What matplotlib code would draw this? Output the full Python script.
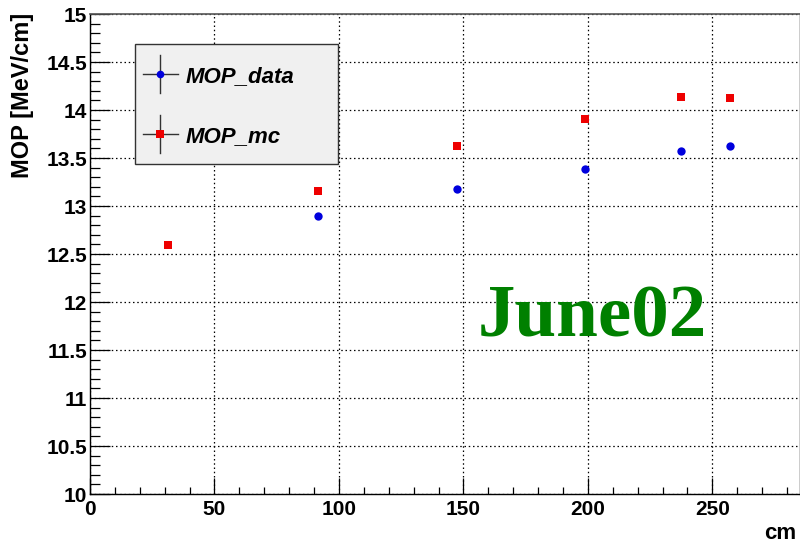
import matplotlib
matplotlib.use("Agg")
import matplotlib.pyplot as plt
from matplotlib.patches import Rectangle
from matplotlib.lines import Line2D
from matplotlib.ticker import MultipleLocator, FuncFormatter

# Most probable energy loss vs. position
mc_x = [31.4, 91.6, 147.5, 198.7, 237.3, 257.0]
mc_y = [12.59, 13.16, 13.62, 13.91, 14.14, 14.12]
data_x = [91.6, 147.5, 198.7, 237.3, 257.0]
data_y = [12.90, 13.18, 13.39, 13.57, 13.62]

series_names = ["MOP_data", "MOP_mc"]
x_label = "cm"
y_label = "MOP [MeV/cm]"
tag_text = "June02"

SANS = "Liberation Sans"
SERIF = "Liberation Serif"

fig = plt.figure(figsize=(8.0, 5.43), dpi=100)
ax = fig.add_axes([90 / 800, 49 / 543, 709.5 / 800, 480 / 543])

ax.set_xlim(0, 285)
ax.set_ylim(10, 15)

# grid
ax.grid(True, which="major", color="black", linestyle=(0, (1.2, 2.2)), linewidth=0.9)
ax.set_axisbelow(True)

# ticks
ax.xaxis.set_major_locator(MultipleLocator(50))
ax.xaxis.set_minor_locator(MultipleLocator(10))
ax.yaxis.set_major_locator(MultipleLocator(0.5))
ax.yaxis.set_minor_locator(MultipleLocator(0.1))
ax.yaxis.set_major_formatter(FuncFormatter(lambda v, p: f"{v:g}"))
ax.xaxis.set_major_formatter(FuncFormatter(lambda v, p: f"{v:g}"))
ax.tick_params(axis="x", which="major", direction="in", length=11.5, width=0.9, pad=4,
               labelsize=15, top=False)
ax.tick_params(axis="x", which="minor", direction="in", length=5.4, width=0.9, top=False)
ax.tick_params(axis="y", which="major", direction="in", length=14.5, width=0.9, pad=2,
               labelsize=15, right=False)
ax.tick_params(axis="y", which="minor", direction="in", length=7.5, width=0.9, right=False)
for lab in ax.get_xticklabels() + ax.get_yticklabels():
    lab.set_fontfamily(SANS)
    lab.set_fontweight("bold")

for side in ["left", "bottom", "right"]:
    ax.spines[side].set_color("black")
    ax.spines[side].set_linewidth(1.0)
ax.spines["top"].set_color("#555555")
ax.spines["top"].set_linewidth(1.2)

# data points
ax.plot(mc_x, mc_y, linestyle="none", marker="s", markersize=5.5,
        color="#ee0000", markeredgewidth=0, zorder=5)
ax.plot(data_x, data_y, linestyle="none", marker="o", markersize=6,
        color="#0000dd", markeredgewidth=0, zorder=5)

# legend box
box = Rectangle((0.0634, 0.6875), 0.2866, 0.25, transform=ax.transAxes,
                facecolor="#f0f0f0", edgecolor="#333333", linewidth=1.0, zorder=6)
ax.add_patch(box)

legend_rows = [
    (series_names[0], "o", "#0000dd", 74.3),
    (series_names[1], "s", "#ee0000", 134.3),
]
for name, mk, col, ypix in legend_rows:
    yc = (494 - ypix) / 480
    xc = (160 - 90) / 709.5
    hx = 17.5 / 709.5
    hy = 19 / 480
    ax.add_line(Line2D([xc - hx, xc + hx], [yc, yc], transform=ax.transAxes,
                       color="#333333", linewidth=1.0, zorder=7))
    ax.add_line(Line2D([xc, xc], [yc - hy, yc + hy], transform=ax.transAxes,
                       color="#333333", linewidth=1.0, zorder=7))
    ax.add_line(Line2D([xc], [yc], transform=ax.transAxes, marker=mk, markersize=5.5,
                       color=col, markeredgewidth=0, linestyle="none", zorder=8))
    ax.text((186 - 90) / 709.5, yc, name, transform=ax.transAxes, ha="left",
            va="center_baseline", fontsize=16, fontfamily=SANS, fontweight="bold",
            fontstyle="italic", zorder=8)

# tag
ax.text(155.6, 11.64, tag_text, ha="left", va="baseline", fontsize=54,
        fontfamily=SERIF, fontweight="bold", color="#008000", zorder=4)

# axis titles
fig.text(23 / 800, 1 - 13 / 543, y_label, rotation=90, ha="center", va="top",
         fontsize=17, fontfamily=SANS, fontweight="bold")
fig.text(796 / 800, 1 - 539 / 543, x_label, ha="right", va="baseline",
         fontsize=16, fontfamily=SANS, fontweight="bold")

fig.savefig("out.png", dpi=100)
